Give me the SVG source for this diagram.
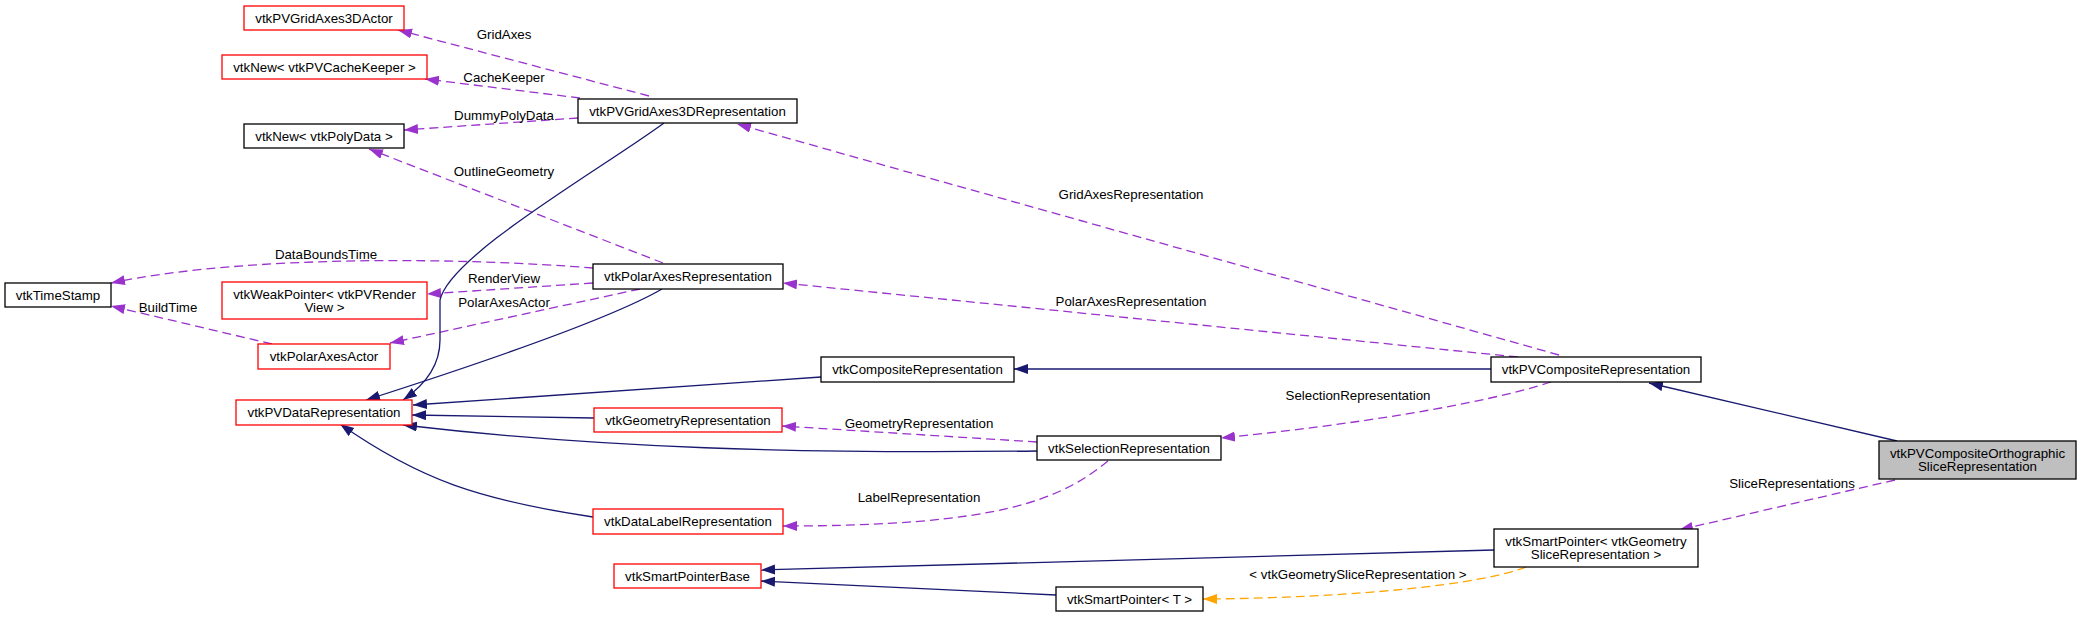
<svg xmlns="http://www.w3.org/2000/svg" width="2081" height="617" viewBox="0 0 2081 617">
<style>
text{font-family:"Liberation Sans",Arial,sans-serif;font-size:13.3px;fill:#000;text-anchor:middle}
.n rect{fill:#fff;stroke:#000;stroke-width:1.3}
.u rect{fill:#fff;stroke:#ff0000;stroke-width:1.3}
.g rect{fill:#bfbfbf;stroke:#000;stroke-width:1.3}
.inh{fill:none;stroke:#191970;stroke-width:1.3;marker-end:url(#an)}
.use{fill:none;stroke:#9a32cd;stroke-width:1.3;stroke-dasharray:9,5;marker-end:url(#ap)}
.tpl{fill:none;stroke:#ffa500;stroke-width:1.3;stroke-dasharray:9,5;marker-end:url(#ao)}
</style>
<defs>
<marker id="an" markerUnits="userSpaceOnUse" markerWidth="15" markerHeight="11" refX="14" refY="5" orient="auto"><path d="M0,0 L14,5 L0,10 z" fill="#191970"/></marker>
<marker id="ap" markerUnits="userSpaceOnUse" markerWidth="15" markerHeight="11" refX="14" refY="5" orient="auto"><path d="M0,0 L14,5 L0,10 z" fill="#9a32cd"/></marker>
<marker id="ao" markerUnits="userSpaceOnUse" markerWidth="15" markerHeight="11" refX="14" refY="5" orient="auto"><path d="M0,0 L14,5 L0,10 z" fill="#ffa500"/></marker>
</defs>
<rect width="2081" height="617" fill="#fff"/>
<g id="edges">
<path class="use" d="M649,96 L398,30"/>
<path class="use" d="M580,98 L425,79"/>
<path class="use" d="M578,118 L404,130"/>
<path class="use" d="M663,263 L369,149"/>
<path class="use" d="M593,268 C470,258 250,254 111,283"/>
<path class="use" d="M593,283 L427,294"/>
<path class="use" d="M640,289 L390,343"/>
<path class="use" d="M272,344 L111,306"/>
<path class="inh" d="M664,123 C600,170 450,255 440,300 L440,340 C440,365 425,385 403,400"/>
<path class="inh" d="M662,289 Q600,325 366,400"/>
<path class="inh" d="M821,377 L413,405"/>
<path class="inh" d="M594,418 L412,415"/>
<path class="inh" d="M1037,451 C800,454 600,448 403,425"/>
<path class="inh" d="M593,517 C480,500 420,480 340,424"/>
<path class="use" d="M1037,442 L782,426"/>
<path class="use" d="M1108,461 C1060,500 1000,526 783,526"/>
<path class="inh" d="M1491,369 L1014,369"/>
<path class="use" d="M1559,355 L737,124"/>
<path class="use" d="M1518,357 L783,283"/>
<path class="use" d="M1551,382 C1480,405 1350,425 1221,438"/>
<path class="inh" d="M1897,441 L1649,383"/>
<path class="use" d="M1895,480 L1679,530"/>
<path class="inh" d="M1494,550 L761,570"/>
<path class="inh" d="M1056,595 L761,581"/>
<path class="tpl" d="M1526,567 C1480,585 1350,598 1203,599"/>
<text x="504" y="38.5">GridAxes</text>
<text x="504" y="81.5">CacheKeeper</text>
<text x="504" y="119.5">DummyPolyData</text>
<text x="504" y="175.5">OutlineGeometry</text>
<text x="326" y="258.5">DataBoundsTime</text>
<text x="504" y="282.5">RenderView</text>
<text x="504" y="306.5">PolarAxesActor</text>
<text x="168" y="311.5">BuildTime</text>
<text x="919" y="427.5">GeometryRepresentation</text>
<text x="919" y="501.5">LabelRepresentation</text>
<text x="1131" y="198.5">GridAxesRepresentation</text>
<text x="1131" y="305.5">PolarAxesRepresentation</text>
<text x="1358" y="399.5">SelectionRepresentation</text>
<text x="1792" y="487.5">SliceRepresentations</text>
<text x="1358" y="578.5">&lt; vtkGeometrySliceRepresentation &gt;</text>
</g>
<g id="vtkPVGridAxes3DActor" class="u"><rect x="244" y="6" width="160" height="24"/><text x="324" y="22.5">vtkPVGridAxes3DActor</text></g>
<g id="vtkNew_vtkPVCacheKeeper" class="u"><rect x="222" y="55" width="205" height="24"/><text x="324.5" y="71.5">vtkNew&lt; vtkPVCacheKeeper &gt;</text></g>
<g id="vtkPVGridAxes3DRepresentation" class="n"><rect x="578" y="99" width="219" height="24"/><text x="687.5" y="115.5">vtkPVGridAxes3DRepresentation</text></g>
<g id="vtkNew_vtkPolyData" class="n"><rect x="244" y="124" width="160" height="24"/><text x="324" y="140.5">vtkNew&lt; vtkPolyData &gt;</text></g>
<g id="vtkPolarAxesRepresentation" class="n"><rect x="593" y="264" width="190" height="25"/><text x="688" y="281">vtkPolarAxesRepresentation</text></g>
<g id="vtkTimeStamp" class="n"><rect x="5" y="283" width="106" height="24"/><text x="58" y="299.5">vtkTimeStamp</text></g>
<g id="vtkWeakPointer_vtkPVRenderView" class="u"><rect x="222" y="282" width="205" height="37"/><text x="324.5" y="298.5">vtkWeakPointer&lt; vtkPVRender</text><text x="324.5" y="311.5">View &gt;</text></g>
<g id="vtkPolarAxesActor" class="u"><rect x="258" y="344" width="132" height="25"/><text x="324" y="361">vtkPolarAxesActor</text></g>
<g id="vtkPVDataRepresentation" class="u"><rect x="236" y="400" width="176" height="25"/><text x="324" y="417">vtkPVDataRepresentation</text></g>
<g id="vtkGeometryRepresentation" class="u"><rect x="594" y="408" width="188" height="24"/><text x="688" y="424.5">vtkGeometryRepresentation</text></g>
<g id="vtkDataLabelRepresentation" class="u"><rect x="593" y="509" width="190" height="25"/><text x="688" y="526">vtkDataLabelRepresentation</text></g>
<g id="vtkSmartPointerBase" class="u"><rect x="614" y="564" width="147" height="24"/><text x="687.5" y="580.5">vtkSmartPointerBase</text></g>
<g id="vtkCompositeRepresentation" class="n"><rect x="821" y="357" width="193" height="25"/><text x="917.5" y="374">vtkCompositeRepresentation</text></g>
<g id="vtkSelectionRepresentation" class="n"><rect x="1037" y="436" width="184" height="24"/><text x="1129" y="452.5">vtkSelectionRepresentation</text></g>
<g id="vtkSmartPointer_T" class="n"><rect x="1056" y="587" width="147" height="24"/><text x="1129.5" y="603.5">vtkSmartPointer&lt; T &gt;</text></g>
<g id="vtkPVCompositeRepresentation" class="n"><rect x="1491" y="357" width="210" height="25"/><text x="1596" y="374">vtkPVCompositeRepresentation</text></g>
<g id="vtkPVCompositeOrthographicSliceRepresentation" class="g"><rect x="1879" y="441" width="197" height="38"/><text x="1977.5" y="458">vtkPVCompositeOrthographic</text><text x="1977.5" y="471">SliceRepresentation</text></g>
<g id="vtkSmartPointer_vtkGeometrySliceRepresentation" class="n"><rect x="1494" y="529" width="204" height="38"/><text x="1596" y="545.5">vtkSmartPointer&lt; vtkGeometry</text><text x="1596" y="559">SliceRepresentation &gt;</text></g>
</svg>
